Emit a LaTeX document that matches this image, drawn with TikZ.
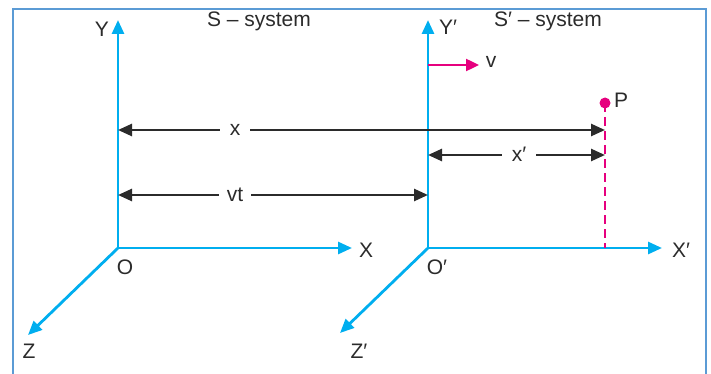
\documentclass[tikz,border=0pt]{standalone}
\usepackage{fontspec}
\setmainfont{Liberation Sans}
\usetikzlibrary{arrows.meta}
\definecolor{axisblue}{HTML}{00AEEF}
\definecolor{pinkline}{HTML}{E6007E}
\definecolor{framecol}{HTML}{5B9BD5}
\definecolor{ink}{HTML}{2B2B2B}
\begin{document}
\begin{tikzpicture}[x=1pt,y=-1pt,
  axis/.style={draw=axisblue, line width=2.8pt, -{Triangle[length=14pt,width=12pt]}},
  dim/.style={draw=ink, line width=2.6pt, -{Triangle[length=14pt,width=12pt]}},
  lbl/.style={font=\fontsize{21}{23}\selectfont, text=ink, inner sep=1pt},
  gap/.style={lbl, inner xsep=10pt},
]
\useasboundingbox (0,0) rectangle (711,374);
\begin{scope}
  \clip (0,0) rectangle (711,374);
  \draw[framecol, line width=1.8pt] (13,9) rectangle (706,400);
\end{scope}

% S system
\coordinate (O) at (118,248);
\coordinate (Ytip) at (118,20);
\coordinate (Xtip) at (352,248);
\coordinate (Ztip) at (28,335);
\draw[axis] (O) -- (Ytip);
\draw[axis] (O) -- (Xtip);
\draw[axis] (O) -- (Ztip);
\node[lbl] (Ylab) at (102,29) {Y};
\node[lbl] (Xlab) at (366,250) {X};
\node[lbl] (Zlab) at (29,351) {Z};
\node[lbl] (Olab) at (125,267) {O};
\node[lbl] (Stitle) at (259,21) {S – system};

% S' system
\coordinate (O2) at (428,248);
\coordinate (Y2tip) at (428,20);
\coordinate (X2tip) at (662,248);
\coordinate (Z2tip) at (340,333);
\draw[axis] (O2) -- (Y2tip);
\draw[axis] (O2) -- (X2tip);
\draw[axis] (O2) -- (Z2tip);
\node[lbl] (Y2lab) at (448,27) {Y′};
\node[lbl] (X2lab) at (681,250) {X′};
\node[lbl] (Z2lab) at (359,351) {Z′};
\node[lbl] (O2lab) at (437,267) {O′};
\node[lbl] (S2title) at (548,21) {S′ – system};

% velocity
\coordinate (v0) at (428,65);
\coordinate (v1) at (479,65);
\draw[draw=pinkline, line width=2.4pt, -{Triangle[length=13pt,width=12pt]}] (v0) -- (v1);
\node[lbl] (vlab) at (491,62) {v};

% point P
\coordinate (P) at (605,103);
\coordinate (Pfoot) at (605,248);
\draw[pinkline, line width=2.4pt, dash pattern=on 9pt off 5pt] (P) -- (Pfoot);
\fill[pinkline] (P) circle (5.5pt);
\node[lbl] (Plab) at (621,100) {P};

% x
\coordinate (xL) at (118,130);
\coordinate (xR) at (605,130);
\node[gap, anchor=center] (xlab) at (235,130) {\raisebox{1pt}{x}};
\draw[dim] (xlab.west) -- (xL);
\draw[dim] (xlab.east) -- (xR);

% x'
\coordinate (x2L) at (428,155);
\coordinate (x2R) at (605,155);
\node[gap] (x2lab) at (519,155) {\raisebox{1pt}{x′}};
\draw[dim] (x2lab.west) -- (x2L);
\draw[dim] (x2lab.east) -- (x2R);

% vt
\coordinate (vtL) at (118,195);
\coordinate (vtR) at (428,195);
\node[gap, inner xsep=8pt] (vtlab) at (235,195) {\raisebox{1pt}{vt}};
\draw[dim] (vtlab.west) -- (vtL);
\draw[dim] (vtlab.east) -- (vtR);
\end{tikzpicture}
\end{document}
